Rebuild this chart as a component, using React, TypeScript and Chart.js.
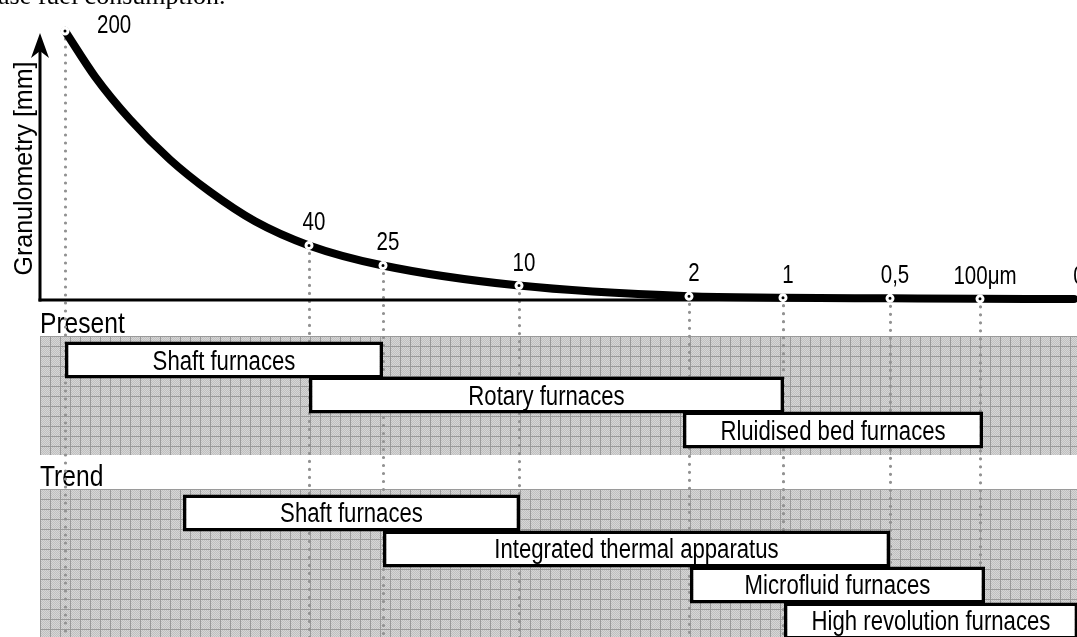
import React, { useEffect, useRef } from 'react';
import { Chart, registerables } from 'chart.js';

Chart.register(...registerables);

// ---- Data ----
// Granulometry classes marked on the curve (label, value in mm, schematic position on the horizontal axis)
const sizeLabels = ['200', '40', '25', '10', '2', '1', '0,5', '100μm', '0'];
const sizeMm = [200, 40, 25, 10, 2, 1, 0.5, 0.1, 0];
const sizePos = [2.5, 26.9, 34.3, 47.9, 64.9, 74.3, 85.0, 94.0, 103.4];

// Granulometry curve
const curvePos = [2.5, 5.5, 9.0, 13.0, 17.0, 21.5, 26.9, 34.3, 47.9, 64.9, 74.3, 85.0, 94.0, 103.4];
const curveMm = [200, 166, 134, 104, 80, 58, 40, 25, 10, 2, 1, 0.5, 0.1, 0];

// Furnace ranges (start / end on the same horizontal position axis)
const presentNames = ['Shaft furnaces', 'Rotary furnaces', 'Rluidised bed furnaces'];
const presentStart = [2.5, 26.9, 64.3];
const presentEnd = [34.3, 74.4, 94.3];

const trendNames = ['Shaft furnaces', 'Integrated thermal apparatus', 'Microfluid furnaces', 'High revolution furnaces'];
const trendStart = [14.3, 34.3, 65.0, 74.4];
const trendEnd = [48.0, 85.0, 94.5, 103.8];

const yTitle = 'Granulometry [mm]';
const bandTitles = ['Present', 'Trend'];
const captionText = 'ase fuel consumption.';

// ---- Layout / style constants ----
const CANVAS_W = 1120;
const CANVAS_H = 680;
const BAND_PAD_TOP = 24;
const BAND_PAD_BOTTOM = 25;

let narrowOK: boolean | null = null;
function narrowAvailable(): boolean {
  if (narrowOK !== null) return narrowOK;
  const c = document.createElement('canvas').getContext('2d')!;
  const s = 'Shaft furnaces 0123456789';
  c.font = '40px monospace';
  const a = c.measureText(s).width;
  c.font = '40px "Liberation Sans Narrow", monospace';
  const b = c.measureText(s).width;
  narrowOK = Math.abs(a - b) > 0.5;
  return narrowOK;
}

function drawNarrow(ctx: CanvasRenderingContext2D, text: string, x: number, y: number, size: number, align: CanvasTextAlign) {
  ctx.save();
  ctx.fillStyle = '#000';
  ctx.textBaseline = 'alphabetic';
  ctx.textAlign = align;
  if (narrowAvailable()) {
    ctx.font = `${size}px "Liberation Sans Narrow", "Liberation Sans", sans-serif`;
    ctx.fillText(text, x, y);
  } else {
    ctx.translate(x, y);
    ctx.scale(0.82, 1);
    ctx.font = `${size}px "Liberation Sans", Arial, sans-serif`;
    ctx.fillText(text, 0, 0);
  }
  ctx.restore();
}

function makePattern(ctx: CanvasRenderingContext2D): CanvasPattern | string {
  const c = document.createElement('canvas');
  c.width = 10;
  c.height = 10;
  const g = c.getContext('2d');
  if (!g) return '#cccccc';
  for (let yy = 0; yy < 10; yy++) {
    for (let xx = 0; xx < 10; xx++) {
      g.fillStyle = (xx + yy) % 2 ? '#c0c0c0' : '#d6d6d6';
      g.fillRect(xx, yy, 1, 1);
    }
  }
  g.fillStyle = '#9a9a9a';
  g.fillRect(0, 0, 10, 1);
  g.fillRect(0, 0, 1, 10);
  return ctx.createPattern(c, 'repeat') || '#cccccc';
}

export default function App() {
  const ref = useRef<HTMLCanvasElement>(null);

  useEffect(() => {
    const canvas = ref.current;
    if (!canvas) return;
    const ctx = canvas.getContext('2d');
    if (!ctx) return;
    const pattern = makePattern(ctx);

    const decor = {
      id: 'decor',
      beforeDatasetsDraw(chart: any) {
        const c: CanvasRenderingContext2D = chart.ctx;
        const xs = chart.scales.x;
        const ym = chart.scales.yMm;
        const yp = chart.scales.yPresent;
        const yt = chart.scales.yTrend;
        const W = chart.width;
        const H = chart.height;
        const x0 = xs.getPixelForValue(0);
        const axisY = ym.getPixelForValue(0) + 1;

        c.save();
        // cut caption line of the surrounding document
        c.fillStyle = '#000';
        c.font = '26px "Liberation Serif", "Times New Roman", serif';
        c.textAlign = 'left';
        c.textBaseline = 'alphabetic';
        c.fillText(captionText, -2, 4);

        // gray grid bands
        const bands = [
          { top: yp.getPixelForValue(0) - BAND_PAD_TOP, bottom: yp.getPixelForValue(presentNames.length - 1) + BAND_PAD_BOTTOM, title: bandTitles[0] },
          { top: yt.getPixelForValue(0) - BAND_PAD_TOP, bottom: yt.getPixelForValue(trendNames.length - 1) + BAND_PAD_BOTTOM, title: bandTitles[1] },
        ];
        bands.forEach((b) => {
          c.save();
          c.translate(x0, b.top);
          c.fillStyle = pattern as any;
          c.fillRect(0, 0, W - x0, b.bottom - b.top);
          c.restore();
          drawNarrow(c, b.title, x0, b.top - 3, 30, 'left');
        });

        // dotted guide lines
        c.save();
        c.strokeStyle = '#929292';
        c.lineWidth = 3.2;
        c.lineCap = 'round';
        c.setLineDash([0, 8]);
        for (let i = 0; i < sizeMm.length - 1; i++) {
          const px = Math.round(xs.getPixelForValue(sizePos[i])) + 0.5;
          const py = ym.getPixelForValue(sizeMm[i]) + 8;
          c.beginPath();
          c.moveTo(px, py);
          c.lineTo(px, H);
          c.stroke();
        }
        c.restore();

        // axes
        c.fillStyle = '#000';
        c.fillRect(x0 - 1.5, axisY - 1.5, W - x0, 3);
        c.fillRect(x0 - 1.5, 50, 3, axisY + 1.5 - 50);
        // arrow head
        c.beginPath();
        c.moveTo(x0, 33);
        c.lineTo(x0 + 9, 58);
        c.lineTo(x0, 51);
        c.lineTo(x0 - 9, 58);
        c.closePath();
        c.fill();

        // y title
        c.save();
        c.translate(32, 168.5);
        c.rotate(-Math.PI / 2);
        c.font = '25px "Liberation Sans", Arial, sans-serif';
        c.textAlign = 'center';
        c.textBaseline = 'alphabetic';
        c.fillText(yTitle, 0, 0);
        c.restore();

        c.restore();
      },
      afterDatasetsDraw(chart: any) {
        const c: CanvasRenderingContext2D = chart.ctx;
        const xs = chart.scales.x;
        const ym = chart.scales.yMm;
        // box labels
        [
          { idx: 2, names: presentNames },
          { idx: 3, names: trendNames },
        ].forEach(({ idx, names }) => {
          const meta = chart.getDatasetMeta(idx);
          meta.data.forEach((el: any, j: number) => {
            const p = el.getProps(['x', 'base', 'y'], true);
            const cx = (p.x + p.base) / 2;
            drawNarrow(c, names[j], cx, p.y + 9.5, 27, 'center');
          });
        });
        // size labels
        sizeLabels.forEach((lab, i) => {
          const px = xs.getPixelForValue(sizePos[i]);
          const py = ym.getPixelForValue(sizeMm[i]);
          if (i === 0) drawNarrow(c, lab, px + 32, py + 2, 25, 'left');
          else drawNarrow(c, lab, px + 5, py - 15, 25, 'center');
        });
      },
    };

    const chart = new Chart(ctx, {
      type: 'bar',
      data: {
        datasets: [
          {
            type: 'line',
            label: 'marks',
            data: sizePos.map((p, i) => ({ x: p, y: sizeMm[i] })),
            xAxisID: 'x',
            yAxisID: 'yMm',
            showLine: false,
            pointRadius: (cx: any) => (cx.dataIndex === sizeMm.length - 1 ? 0 : 3),
            pointBackgroundColor: '#000',
            pointBorderColor: '#fff',
            pointBorderWidth: 3,
            clip: false,
            order: 0,
          } as any,
          {
            type: 'line',
            label: 'curve',
            data: curvePos.map((p, i) => ({ x: p, y: curveMm[i] })),
            xAxisID: 'x',
            yAxisID: 'yMm',
            borderColor: '#000',
            borderWidth: 8,
            borderCapStyle: 'round',
            cubicInterpolationMode: 'monotone',
            pointRadius: 0,
            fill: false,
            clip: false,
            order: 1,
          } as any,
          {
            type: 'bar',
            label: 'Present',
            indexAxis: 'y',
            data: presentNames.map((_, i) => ({ y: i, x: [presentStart[i], presentEnd[i]] })),
            xAxisID: 'x',
            yAxisID: 'yPresent',
            backgroundColor: '#fff',
            borderColor: '#000',
            borderWidth: 3.5,
            borderSkipped: false,
            barThickness: 37,
            inflateAmount: 0,
            grouped: false,
            order: 2,
          } as any,
          {
            type: 'bar',
            label: 'Trend',
            indexAxis: 'y',
            data: trendNames.map((_, i) => ({ y: i, x: [trendStart[i], trendEnd[i]] })),
            xAxisID: 'x',
            yAxisID: 'yTrend',
            backgroundColor: '#fff',
            borderColor: '#000',
            borderWidth: 3.5,
            borderSkipped: false,
            barThickness: 37,
            inflateAmount: 0,
            grouped: false,
            order: 3,
          } as any,
        ],
      },
      options: {
        animation: false,
        responsive: false,
        devicePixelRatio: 1,
        events: [],
        layout: { padding: 0, autoPadding: false },
        plugins: { legend: { display: false }, tooltip: { enabled: false } },
        scales: {
          x: { type: 'linear', min: -4, max: 108, display: false, offset: false },
          yMm: { type: 'linear', axis: 'y', min: -284.33, max: 223.13, display: false, offset: false },
          yPresent: { type: 'linear', axis: 'y', reverse: true, min: -10.286, max: 9.143, display: false, offset: false, grid: { offset: false } },
          yTrend: { type: 'linear', axis: 'y', reverse: true, min: -14.25, max: 4.639, display: false, offset: false, grid: { offset: false } },
        } as any,
      },
      plugins: [decor],
    } as any);

    return () => chart.destroy();
  }, []);

  return (
    <div style={{ position: 'fixed', left: 0, top: 0, width: 1077, height: 637, overflow: 'hidden', background: '#fff' }}>
      <canvas ref={ref} width={CANVAS_W} height={CANVAS_H} style={{ display: 'block', width: CANVAS_W, height: CANVAS_H }} />
    </div>
  );
}
